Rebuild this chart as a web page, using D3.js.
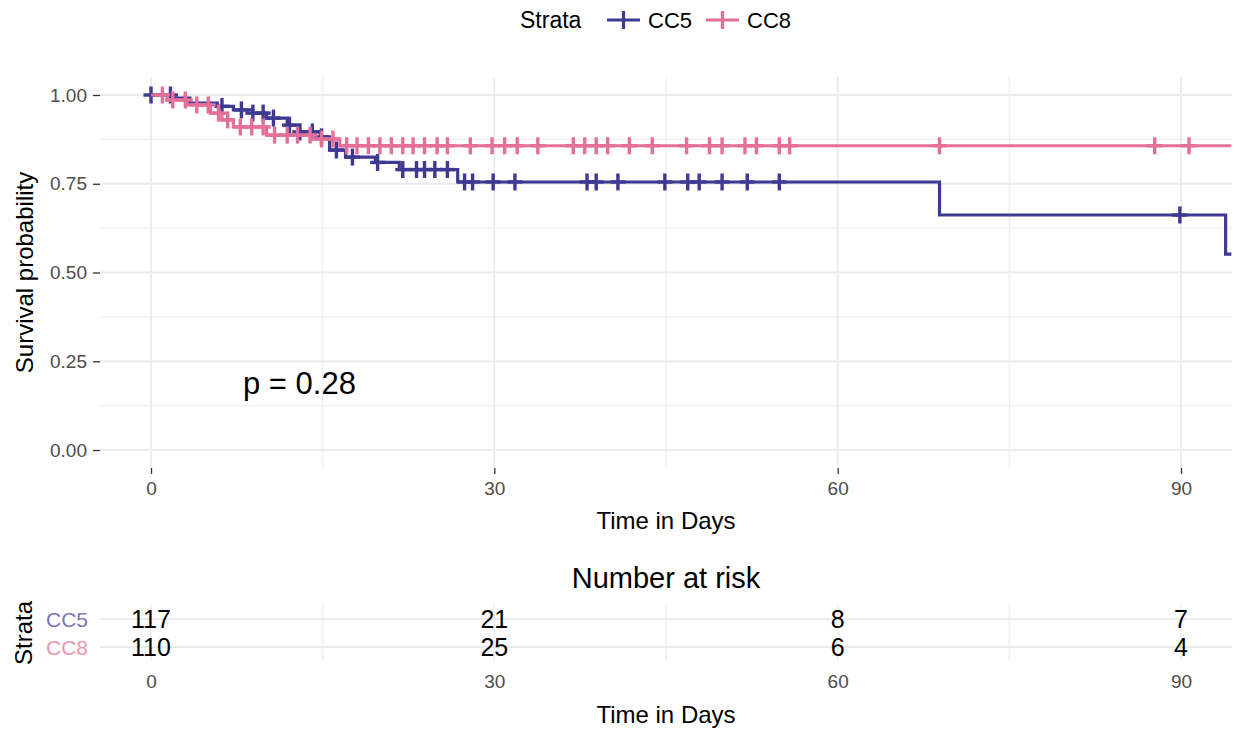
<!DOCTYPE html>
<html>
<head>
<meta charset="utf-8">
<script src="https://cdn.jsdelivr.net/npm/d3@7"></script>
<style>
  body { margin: 0; background: #fff; }
  svg { font-family: "Liberation Sans", Arial, sans-serif; }
</style>
</head>
<body>
<svg id="chart" width="1235" height="731"></svg>
<script>
// data
var strata = ["CC5", "CC8"];
var strataColors = ["#3E3992", "#E46F98"];
var strataLabelColors = ["#7B76B9", "#EA94B3"];

// step curves: time of each drop and the survival after it
var cc5Times = [0, 1.9, 3.4, 5.8, 7.2, 8.9, 10.1, 11.9, 13.0, 14.8, 15.6, 17.0, 19.6, 21.7, 26.8, 68.9, 93.9, 94.4];
var cc5Surv  = [1.0, 0.991, 0.977, 0.968, 0.958, 0.949, 0.935, 0.915, 0.896, 0.882, 0.845, 0.825, 0.81, 0.79, 0.755, 0.662, 0.552, 0.552];
var cc8Times = [0, 1.4, 3.1, 5.2, 6.2, 7.2, 10.1, 14.1, 16.5, 94.4];
var cc8Surv  = [1.0, 0.986, 0.972, 0.949, 0.93, 0.91, 0.887, 0.876, 0.857, 0.857];

// censoring times
var cc5Censor = [0, 1.7, 6.2, 7.9, 8.9, 9.8, 10.7, 12.1, 13.0, 14.1, 14.9, 16.2, 17.6, 19.8, 22.0, 23.2, 23.9, 24.8, 25.9,
    27.4, 28.1, 29.9, 31.8, 38.1, 38.9, 40.8, 44.9, 46.9, 47.9, 49.9, 52.1, 54.9, 89.9];
var cc8Censor = [1.0, 1.9, 3.0, 4.0, 5.0, 5.9, 6.7, 7.8, 8.8, 9.8, 10.8, 11.9, 12.8, 13.9, 14.9, 15.9, 17.1, 18.0, 19.0,
    20.0, 21.0, 22.0, 22.9, 23.9, 25.0, 25.9, 27.9, 29.8, 30.9, 32.0, 33.8, 36.9, 37.9, 38.9, 39.9, 41.8, 43.8, 46.8,
    48.8, 49.9, 51.9, 52.9, 54.9, 55.8, 68.9, 87.7, 90.7];

// number at risk
var riskTimes = [0, 30, 60, 90];
var cc5Risk = [117, 21, 8, 7];
var cc8Risk = [110, 25, 6, 4];

var xTicks = [0, 30, 60, 90];
var xMinor = [15, 45, 75];
var yTicks = [0, 0.25, 0.5, 0.75, 1];
var yMinor = [0.125, 0.375, 0.625, 0.875];

// layout
var panel = { left: 100, right: 1232, top: 77, bottom: 468 };
var risk = { top: 604, bottom: 661 };

var svg = d3.select("#chart");

var x = d3.scaleLinear().domain([0, 90]).range([151, 1181]);
var y = d3.scaleLinear().domain([0, 1]).range([450, 95]);
var row = d3.scalePoint().domain(strata).range([619, 647]);

var series = [
    { name: "CC5", times: cc5Times, surv: cc5Surv, censor: cc5Censor, risk: cc5Risk },
    { name: "CC8", times: cc8Times, surv: cc8Surv, censor: cc8Censor, risk: cc8Risk }
];

function survAt(s, t) {
    var v = s.surv[0];
    for (var i = 0; i < s.times.length; i++) {
        if (s.times[i] <= t) v = s.surv[i];
    }
    return v;
}

// grid - main panel
var grid = svg.append("g");
grid.selectAll(".hmin").data(yMinor).enter().append("line")
    .attr("x1", panel.left).attr("x2", panel.right)
    .attr("y1", function (d) { return y(d); }).attr("y2", function (d) { return y(d); })
    .attr("stroke", "#EFEFEF").attr("stroke-width", 1.3);
grid.selectAll(".vmin").data(xMinor).enter().append("line")
    .attr("y1", panel.top).attr("y2", panel.bottom)
    .attr("x1", function (d) { return x(d); }).attr("x2", function (d) { return x(d); })
    .attr("stroke", "#EFEFEF").attr("stroke-width", 1.3);
grid.selectAll(".hmaj").data(yTicks).enter().append("line")
    .attr("x1", panel.left).attr("x2", panel.right)
    .attr("y1", function (d) { return y(d); }).attr("y2", function (d) { return y(d); })
    .attr("stroke", "#EBEBEB").attr("stroke-width", 1.8);
grid.selectAll(".vmaj").data(xTicks).enter().append("line")
    .attr("y1", panel.top).attr("y2", panel.bottom)
    .attr("x1", function (d) { return x(d); }).attr("x2", function (d) { return x(d); })
    .attr("stroke", "#EBEBEB").attr("stroke-width", 1.8);

// grid - risk table
grid.selectAll(".rv").data(xTicks.concat(xMinor)).enter().append("line")
    .attr("y1", risk.top).attr("y2", risk.bottom)
    .attr("x1", function (d) { return x(d); }).attr("x2", function (d) { return x(d); })
    .attr("stroke", "#EFEFEF").attr("stroke-width", 1.5);
grid.selectAll(".rh").data(strata).enter().append("line")
    .attr("x1", panel.left).attr("x2", panel.right)
    .attr("y1", function (d) { return row(d); }).attr("y2", function (d) { return row(d); })
    .attr("stroke", "#EBEBEB").attr("stroke-width", 1.8);

// axes
var yAxis = d3.axisLeft(y).tickValues(yTicks).tickFormat(d3.format(".2f")).tickSize(7).tickPadding(6);
var xAxis = d3.axisBottom(x).tickValues(xTicks).tickFormat(d3.format("d")).tickSize(6).tickPadding(8);
var xAxisRisk = d3.axisBottom(x).tickValues(xTicks).tickFormat(d3.format("d")).tickSize(0).tickPadding(14);

function styleAxis(g) {
    g.select(".domain").remove();
    g.selectAll(".tick line").attr("stroke", "#333").attr("stroke-width", 1.3);
    g.selectAll(".tick text").attr("fill", "#4D4D4D").style("font-size", "19px")
        .style("font-family", "Liberation Sans, Arial, sans-serif");
}

svg.append("g").attr("transform", "translate(" + panel.left + ",0)").call(yAxis).call(styleAxis);
svg.append("g").attr("transform", "translate(0," + panel.bottom + ")").call(xAxis).call(styleAxis);
svg.append("g").attr("transform", "translate(0," + risk.bottom + ")").call(xAxisRisk).call(styleAxis);

// curves
svg.append("clipPath").attr("id", "clip").append("rect")
    .attr("x", panel.left).attr("y", panel.top)
    .attr("width", panel.right - panel.left).attr("height", panel.bottom - panel.top);

var line = d3.line()
    .x(function (d) { return x(d[0]); })
    .y(function (d) { return y(d[1]); })
    .curve(d3.curveStepAfter);

var curves = svg.append("g").attr("clip-path", "url(#clip)");

series.forEach(function (s, i) {
    var pts = s.times.map(function (t, j) { return [t, s.surv[j]]; });
    curves.append("path")
        .datum(pts)
        .attr("d", line)
        .attr("fill", "none")
        .attr("stroke", strataColors[i])
        .attr("stroke-width", 3.2);

    var marks = curves.selectAll(".m" + i).data(s.censor).enter().append("g")
        .attr("transform", function (t) { return "translate(" + x(t) + "," + y(survAt(s, t)) + ")"; });
    marks.append("line").attr("x1", -7.5).attr("x2", 7.5).attr("y1", 0).attr("y2", 0)
        .attr("stroke", strataColors[i]).attr("stroke-width", 3.4);
    marks.append("line").attr("x1", 0).attr("x2", 0).attr("y1", -8.5).attr("y2", 8.5)
        .attr("stroke", strataColors[i]).attr("stroke-width", 3.4);
});

// p value
svg.append("text")
    .attr("x", 243).attr("y", 394)
    .style("font-size", "31px")
    .attr("fill", "#000")
    .text("p = 0.28");

// axis titles
svg.append("text")
    .attr("transform", "translate(33," + ((panel.top + panel.bottom) / 2) + ") rotate(-90)")
    .attr("text-anchor", "middle")
    .style("font-size", "24px")
    .text("Survival probability");

svg.append("text")
    .attr("x", 666).attr("y", 529)
    .attr("text-anchor", "middle")
    .style("font-size", "24px")
    .text("Time in Days");

svg.append("text")
    .attr("x", 666).attr("y", 723)
    .attr("text-anchor", "middle")
    .style("font-size", "24px")
    .text("Time in Days");

// legend
var legend = svg.append("g");
legend.append("text").attr("x", 520).attr("y", 28).style("font-size", "23px").text("Strata");
var legX = [607, 706];
var legTextX = [648, 747];
strata.forEach(function (name, i) {
    legend.append("line").attr("x1", legX[i]).attr("x2", legX[i] + 33).attr("y1", 20).attr("y2", 20)
        .attr("stroke", strataColors[i]).attr("stroke-width", 3.2);
    legend.append("line").attr("x1", legX[i] + 16.5).attr("x2", legX[i] + 16.5).attr("y1", 11).attr("y2", 29)
        .attr("stroke", strataColors[i]).attr("stroke-width", 3.2);
    legend.append("text").attr("x", legTextX[i]).attr("y", 28).style("font-size", "22px").text(name);
});

// risk table
svg.append("text")
    .attr("x", 666).attr("y", 588)
    .attr("text-anchor", "middle")
    .style("font-size", "29px")
    .text("Number at risk");

series.forEach(function (s, i) {
    svg.selectAll(".r" + i).data(s.risk).enter().append("text")
        .attr("x", function (d, j) { return x(riskTimes[j]); })
        .attr("y", row(s.name))
        .attr("dy", "0.36em")
        .attr("text-anchor", "middle")
        .style("font-size", "25px")
        .attr("fill", "#000")
        .text(function (d) { return d; });

    svg.append("text")
        .attr("x", 88).attr("y", row(s.name))
        .attr("dy", "0.36em")
        .attr("text-anchor", "end")
        .style("font-size", "21px")
        .attr("fill", strataLabelColors[i])
        .text(s.name);
});

svg.append("text")
    .attr("transform", "translate(32," + ((row("CC5") + row("CC8")) / 2) + ") rotate(-90)")
    .attr("text-anchor", "middle")
    .style("font-size", "24px")
    .text("Strata");
</script>
</body>
</html>
